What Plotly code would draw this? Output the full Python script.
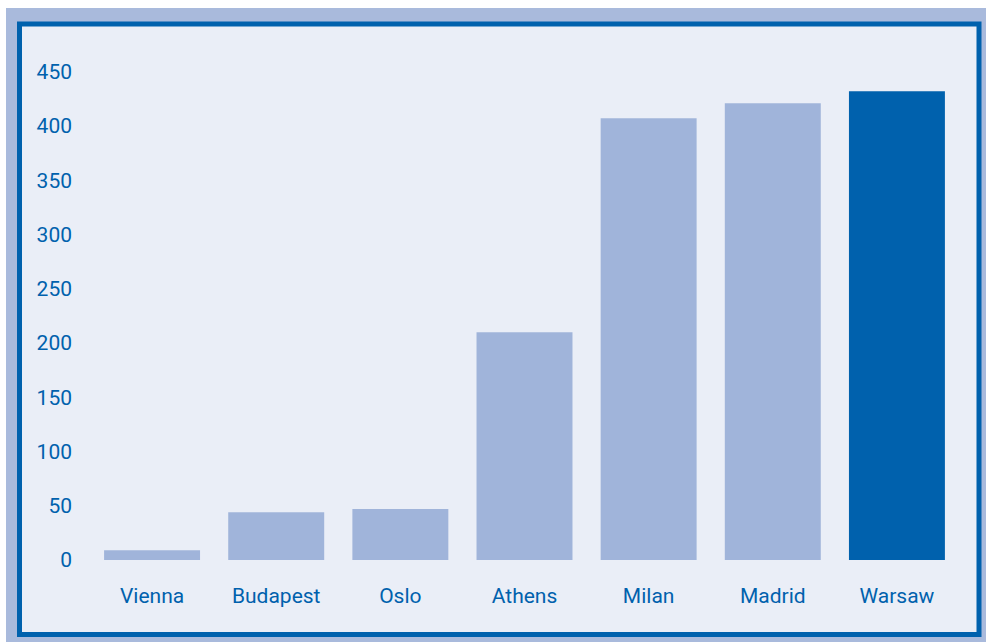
import plotly.graph_objects as go

categories = ["Vienna", "Budapest", "Oslo", "Athens", "Milan", "Madrid", "Warsaw"]
values = [9, 44, 47, 210, 407, 421, 432]
highlight = "Warsaw"
y_ticks = [0, 50, 100, 150, 200, 250, 300, 350, 400, 450]

LIGHT_BAR = "#a0b4da"
DARK = "#0061ad"
INNER_BG = "#eaeef7"
OUTER_BAND = "#a9badc"

W, H = 986, 642
# plot area in window coordinates: x 90..959, y 50..560
ML, MR, MT, MB = 90, 986 - 959, 50, 642 - 560
PW, PH = W - ML - MR, H - MT - MB

def px(x):
    return (x - ML) / PW

def py(y):
    return (H - MB - y) / PH

colors = [DARK if c == highlight else LIGHT_BAR for c in categories]

fig = go.Figure(go.Bar(x=categories, y=values, marker=dict(color=colors, line=dict(width=0))))

font = dict(family="Roboto, Arial", size=21, color=DARK)

fig.update_layout(
    width=W, height=H,
    margin=dict(l=ML, r=MR, t=MT, b=MB),
    paper_bgcolor="white",
    plot_bgcolor="rgba(0,0,0,0)",
    bargap=0.227,
    showlegend=False,
    font=font,
    shapes=[
        dict(type="rect", xref="paper", yref="paper", layer="below",
             x0=px(6), x1=px(990), y0=py(646), y1=py(8),
             fillcolor=OUTER_BAND, line=dict(width=0)),
        dict(type="rect", xref="paper", yref="paper", layer="below",
             x0=px(19.5), x1=px(979), y0=py(634.5), y1=py(24),
             fillcolor=INNER_BG, line=dict(color=DARK, width=5)),
    ],
)
fig.update_xaxes(showgrid=False, zeroline=False, showline=False, ticks="",
                 tickfont=font, ticklabelstandoff=21)
fig.update_yaxes(range=[0, 470], tickvals=y_ticks, showgrid=False, zeroline=False,
                 showline=False, ticks="", tickfont=font, ticklabelstandoff=17)

fig.write_html(
    "out.html",
    config={"displayModeBar": False},
    post_script="document.body.style.margin='0';document.body.style.overflow='hidden';",
)
